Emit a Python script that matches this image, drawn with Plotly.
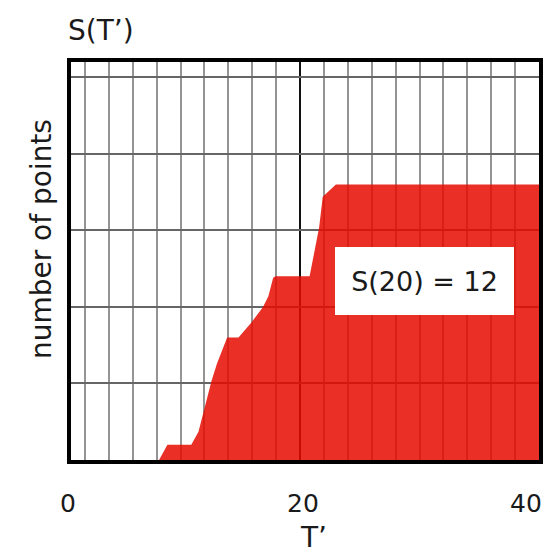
import plotly.graph_objects as go

# ---- data ----
t_values = [0.83, 8.2, 8.9, 10.9, 11.5, 12.2, 12.6, 13.05, 13.9, 14.85, 15.95,
            16.9, 17.35, 17.75, 17.95, 20.8, 21.6, 21.9, 22.3, 23.0, 40]
s_values = [0, 0, 1, 1, 1.85, 3.9, 5.2, 6.3, 8, 8, 9.0,
            10, 10.7, 11.9, 12, 12, 15.2, 17.2, 17.5, 18, 18]

x_axis_start = 0.83          # left edge of the drawn axis (labelled "0")
x_axis_end = 40
x_tick_vals = [x_axis_start, 20, x_axis_end]
x_tick_text = ["0", "20", "40"]
y_range = [0, 26]
label_point_t = 30.4
label_point_s = 11.7
label_text = "S(20) = 12"

FONT = "'DejaVu Sans', sans-serif"
TXT = "#1a1a1a"

fig = go.Figure()
fig.add_trace(go.Scatter(
    x=t_values, y=s_values, mode="lines",
    line=dict(width=0, color="rgba(229,10,0,0.85)"),
    fill="tozeroy", fillcolor="rgba(229,10,0,0.85)",
    hoverinfo="skip", showlegend=False,
))

fig.add_annotation(
    x=label_point_t, y=label_point_s, xref="x", yref="y",
    text=label_text, showarrow=False,
    font=dict(family=FONT, size=27, color=TXT),
    bgcolor="white", borderpad=15, borderwidth=0,
    width=149, height=38,
)

# x tick labels (placed at the axis ticks; last one kept inside the page)
tick_styles = [dict(xanchor="center", xshift=-3),
               dict(xanchor="center", xshift=3),
               dict(xanchor="right", xshift=5)]
for val, txt, st in zip(x_tick_vals, x_tick_text, tick_styles):
    fig.add_annotation(
        x=val, y=0, xref="x", yref="paper", yanchor="middle", yshift=-43,
        text=txt, showarrow=False,
        font=dict(family=FONT, size=25, color=TXT), **st,
    )

# axis titles
fig.add_annotation(
    x=0, y=0.555, xref="paper", yref="paper", xshift=-30,
    xanchor="center", yanchor="middle",
    text="number of points", textangle=-90, showarrow=False,
    font=dict(family=FONT, size=28, color=TXT),
)
fig.add_annotation(
    x=0.519, y=0, xref="paper", yref="paper", yshift=-77,
    xanchor="center", yanchor="middle",
    text="T’", showarrow=False,
    font=dict(family=FONT, size=28, color=TXT),
)

fig.update_layout(
    autosize=True,
    margin=dict(l=71, r=8, t=62, b=97),
    paper_bgcolor="white", plot_bgcolor="white",
    font=dict(family=FONT, color=TXT),
    title=dict(text="S(T’)", x=68 / 551, xref="container", xanchor="left",
               y=1 - 30 / 557, yref="container", yanchor="middle",
               font=dict(family=FONT, size=28, color=TXT)),
    xaxis=dict(
        range=[x_axis_start, x_axis_end],
        tickmode="array", tickvals=x_tick_vals, ticktext=x_tick_text,
        showticklabels=False, ticks="",
        showgrid=True, gridcolor="#111", gridwidth=2,
        minor=dict(dtick=2, tick0=0, showgrid=True, gridcolor="#949494", gridwidth=1.5),
        showline=True, linecolor="black", linewidth=4, mirror=True,
        zeroline=False, fixedrange=True,
    ),
    yaxis=dict(
        range=y_range, dtick=5, tick0=0,
        showticklabels=False, ticks="",
        showgrid=True, gridcolor="#666", gridwidth=1.6,
        showline=True, linecolor="black", linewidth=4, mirror=True,
        zeroline=False, fixedrange=True,
    ),
)

fig.write_html("out.html", config={"displayModeBar": False},
               default_width="100%", default_height="100%")

# remove default page margin so the figure fills the window exactly
with open("out.html", encoding="utf-8") as f:
    html = f.read()
html = html.replace(
    "<head>",
    "<head><style>html,body{margin:0;padding:0;width:100%;height:100%;overflow:hidden;}"
    "body>div{width:100%;height:100%;}</style>", 1)
with open("out.html", "w", encoding="utf-8") as f:
    f.write(html)
